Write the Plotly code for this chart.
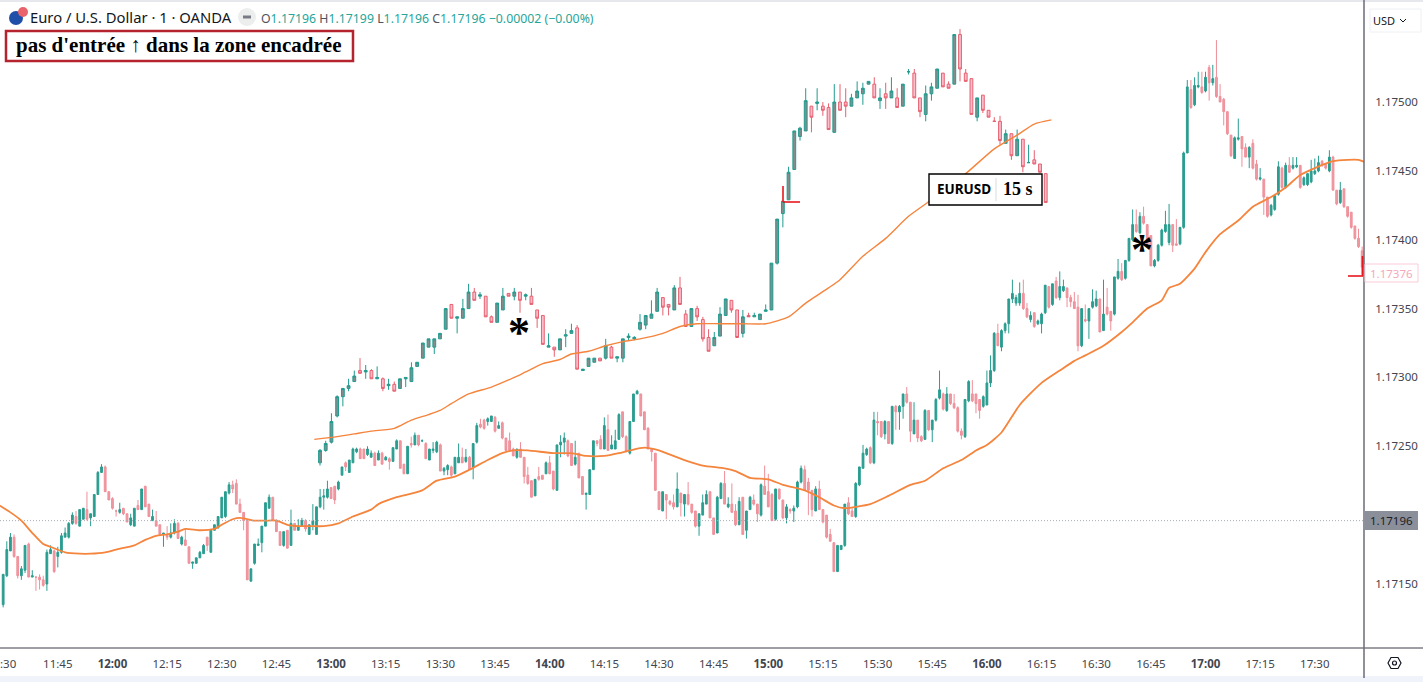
import pandas as pd
import plotly.graph_objects as go

W, H = 1423, 682
PLOT_W, PLOT_H = 1364, 648
BASE = 1.17
PIP = 0.00001

# main series, 1 minute candles from 11:30, in pipettes above 1.17000
main_open = [
    135,156,174,184,170,156,160,179,155,155, 155,153,150,172,174,170,173,184,184,194,
    199,192,197,204,198,199,215,231,235,217, 212,203,202,205,201,193,192,207,204,221,
    208,196,196,193,186,186,184,187,194,179, 182,177,165,165,169,172,184,173,189,191,
    198,199,216,222,223,208,202,196,152,165, 178,180,192,205,213,196,188,178,189,178,
    194,189,192,196,186,193,186,206,213,213, 220,221,219,229,238,231,238,246,248,248,
    244,242,245,240,245,240,241,239,248,254, 237,230,252,251,258,254,252,240,247,246,
    251,232,233,235,230,238,242,239,242,235, 253,266,269,268,268,271,263,267,256,254,
    248,242,248,242,229,225,214,228,229,230, 238,232,218,251,253,254,252,237,245,228,
    215,215,233,254,255,248,262,248,248,255, 275,257,245,268,288,288,275,263,248,245,
    217,203,215,210,209,206,216,208,215,208, 203,192,200,208,217,198,187,212,223,206,
    208,203,193,213,189,204,211,208,200,221, 217,215,197,219,211,198,204,203,206,224,
    233,224,218,203,219,204,200,186,180,159, 175,178,209,203,199,222,234,244,249,238,
    268,268,259,268,252,279,275,279,288,282, 259,269,257,255,276,262,269,285,288,276,
    288,281,278,261,257,283,288,288,284,279, 280,296,305,332,322,334,339,357,354,354,
    361,350,342,347,339,339,347,366,353,370, 358,363,365,358,355,351,323,342,341,351,
    352,357,334,351,348,346,372,377,372,385, 400,411,405,417,411,403,381,385,396,406,
    398,411,397,397,409,463,509,498,511,511, 508,525,514,518,504,502,493,476,459,473,
    475,467,460,470,455,444,444,431,418,422, 433,452,438,454,452,453,454,440,440,442,
    448,450,457,455,450,460,436,427,437,424, 420,410,401,392,
]
main_high = [
    157,181,187,186,170,163,178,180,160,155, 157,156,175,178,175,177,187,191,195,202,
    203,204,205,217,201,215,232,237,236,217, 213,204,209,205,201,201,205,211,219,221,
    208,204,203,193,187,192,194,197,195,185, 190,177,166,169,174,179,184,190,193,199,
    213,217,224,225,226,212,202,197,161,179, 183,192,209,215,213,197,188,188,189,204,
    194,197,198,197,193,208,206,219,219,225, 220,221,225,235,239,240,249,249,249,248,
    250,247,246,247,246,243,242,249,255,254, 237,250,257,260,258,255,253,248,253,254,
    252,235,237,236,242,252,249,248,243,252, 267,270,270,271,272,272,268,268,256,260,
    249,248,253,242,235,225,226,235,229,239, 243,232,251,258,260,255,252,254,245,228,
    216,233,254,254,258,271,273,258,262,274, 275,258,268,288,291,288,275,264,248,245,
    217,217,215,211,215,231,216,215,224,208, 203,201,215,218,217,198,214,224,232,213,
    223,208,213,213,203,214,215,208,223,236, 230,216,219,219,211,208,205,207,225,236,
    236,227,218,221,225,204,200,190,180,178, 178,208,213,205,224,235,251,249,250,275,
    275,268,269,268,279,280,280,288,293,282, 282,269,258,277,276,269,285,305,289,293,
    288,288,279,263,284,298,298,288,284,287, 305,316,333,339,335,340,357,371,360,369,
    371,354,348,347,342,347,367,366,368,373, 377,371,365,360,362,360,350,353,350,364,
    363,357,371,365,348,373,386,383,385,401, 422,422,420,424,411,403,386,397,408,421,
    426,411,415,409,464,516,516,518,522,522, 522,527,527,545,513,503,493,476,475,488,
    475,470,468,473,458,452,444,431,426,432, 457,453,456,460,460,460,454,446,448,458,
    459,461,458,455,465,461,436,442,437,424, 420,410,408,395,
]
main_low = [
    133,155,174,169,154,153,158,155,155,145, 146,148,145,172,158,162,172,184,183,193,
    193,192,197,196,192,199,215,231,217,211, 204,199,201,200,195,192,192,204,204,206,
    199,196,192,186,177,182,183,186,183,178, 178,165,161,165,169,172,174,173,189,190,
    198,198,215,216,208,202,189,153,152,164, 178,173,192,205,196,188,178,177,176,178,
    189,189,192,188,186,189,186,205,204,212, 212,208,218,229,232,231,238,245,241,241,
    243,242,236,240,237,240,233,239,248,234, 230,230,249,251,250,253,241,240,245,245,
    232,229,229,227,230,238,238,238,233,226, 252,263,262,265,268,260,263,255,247,247,
    243,241,242,223,222,213,214,225,226,230, 230,218,218,242,244,242,236,236,227,215,
    204,215,233,250,248,248,247,248,248,255, 256,246,244,268,288,272,262,248,239,218,
    204,203,197,207,204,206,199,199,207,201, 191,185,200,208,198,186,187,212,208,205,
    202,192,193,186,183,204,207,195,199,215, 206,196,196,211,197,194,201,195,205,223,
    218,200,199,203,204,194,183,181,159,159, 175,177,200,199,198,221,234,243,237,237,
    258,256,255,252,251,262,262,270,281,253, 259,253,253,255,261,253,268,284,276,275,
    280,277,260,255,256,282,282,274,270,278, 280,293,304,323,319,332,332,354,352,352,
    349,343,340,336,338,332,346,350,352,357, 356,362,351,351,350,319,322,340,328,350,
    351,333,334,345,334,345,371,370,371,384, 399,405,404,411,396,381,380,384,395,405,
    396,391,396,396,408,463,495,497,510,506, 507,501,512,503,500,483,476,460,459,472,
    453,460,452,451,443,443,418,416,417,421, 432,437,437,449,451,452,437,439,439,441,
    447,449,453,451,449,436,425,426,423,416, 408,400,394,375,
]
main_close = [
    157,175,184,170,156,161,178,155,156,155, 153,149,173,175,159,173,185,187,194,200,
    194,204,205,197,201,215,231,235,217,211, 205,203,204,201,195,198,205,204,219,206,
    199,199,192,186,187,184,187,194,183,184, 178,165,166,169,173,178,178,189,193,199,
    213,217,222,219,208,202,196,153,161,179, 179,192,209,213,196,188,178,188,176,194,
    189,192,196,190,193,196,206,213,214,219, 212,211,224,235,235,240,248,248,241,241,
    248,245,236,245,237,242,239,249,254,234, 230,250,251,258,251,254,241,248,248,253,
    232,234,236,229,242,242,238,242,233,252, 265,264,263,270,272,261,265,256,247,247,
    243,248,242,228,223,213,226,226,226,238, 230,219,251,253,256,243,236,242,227,215,
    216,233,254,252,248,265,247,251,254,273, 257,246,268,288,290,272,262,248,246,218,
    204,217,211,208,206,219,209,215,208,202, 192,201,209,215,198,186,213,223,208,208,
    202,193,210,186,203,213,208,201,222,215, 206,196,219,212,198,206,203,205,224,234,
    218,218,204,219,204,195,184,181,159,178, 178,208,201,199,223,235,245,248,238,269,
    267,257,268,252,279,275,279,288,282,261, 269,256,254,276,262,269,284,291,277,288,
    281,278,261,258,284,297,283,281,276,286, 296,305,332,323,334,339,357,361,358,361,
    350,344,345,337,341,346,367,351,368,358, 366,366,358,355,350,323,350,341,350,355,
    357,333,346,346,341,373,377,371,385,401, 411,406,417,412,397,381,385,396,407,411,
    411,396,396,409,463,511,496,512,512,507, 518,514,517,504,500,493,477,461,474,474,
    466,460,467,452,444,445,431,417,425,432, 453,438,454,449,454,454,438,445,448,450,
    450,456,454,452,460,436,426,436,424,417, 409,401,395,380,
]

# pasted chart on top of the main one, candles counted from its own left edge
paste_open = [
    238,247,253,272,286,292,297,305,304,305, 299,299,294,295,292,299,297,308,314,322,
    322,328,335,353,343,343,350,362,359,359, 344,340,349,361,359,362,359,359,349,345,
    322,322,320,330,332,336,305,308,311,314, 314,322,314,314,329,328,335,338,343,348,
    358,353,349,365,346,337,350,342,329,323, 330,345,356,349,332,345,344,342,348,349,
    383,419,429,451,475,479,497,499,497,496, 478,500,500,497,503,506,513,513,501,506,
    503,503,497,522,521,503,491,506,510,521, 513,513,549,521,517,489,505,494,486,486,
    470,477,461,473,456,458,455,448,
]
paste_high = [
    248,254,274,287,292,299,305,314,309,306, 308,300,299,297,299,300,311,311,325,328,
    328,332,350,353,344,357,368,365,362,359, 345,354,365,361,365,362,361,365,349,345,
    332,322,328,335,339,338,306,314,314,314, 328,323,315,328,332,330,346,345,356,365,
    358,353,367,373,349,350,352,344,335,333, 351,357,356,349,349,347,347,346,353,383,
    415,428,453,479,482,510,497,510,500,499, 513,513,510,506,515,514,515,518,510,514,
    518,510,513,524,524,503,512,514,524,521, 515,549,553,524,517,503,505,494,489,490,
    480,477,480,473,469,465,455,448,
]
paste_low = [
    236,246,252,271,279,290,297,303,299,299, 299,290,291,290,292,293,297,308,314,322,
    317,328,335,343,332,343,350,356,357,344, 340,340,349,359,356,347,356,353,336,324,
    322,315,320,322,332,306,305,308,311,312, 313,314,311,311,327,327,334,335,343,348,
    345,345,349,353,337,337,341,326,319,323, 330,345,347,329,329,344,344,342,348,349,
    382,409,429,451,472,479,478,494,490,480, 478,494,489,497,503,498,513,503,495,495,
    503,496,497,520,503,489,486,501,510,511, 510,513,515,515,491,486,492,489,486,469,
    470,458,461,449,456,455,449,427,
]
paste_close = [
    247,252,268,286,292,294,301,303,305,299, 300,292,295,290,299,300,307,311,325,328,
    328,332,350,343,344,350,362,356,360,344, 340,354,359,359,362,356,360,353,343,324,
    323,320,328,331,334,306,306,314,314,312, 323,314,315,328,330,329,340,345,346,362,
    351,351,365,353,337,350,344,328,319,329, 346,357,349,329,344,344,345,346,349,383,
    415,428,449,479,481,501,489,500,494,480, 500,494,497,503,508,510,515,503,503,503,
    508,496,513,522,503,493,506,511,524,511, 510,549,524,515,491,503,494,489,486,472,
    477,461,473,453,456,455,449,427,
]

ma_minute = [
    -1,2,5,8,11,13,17,21,24,28,31,36,39,42,45,48,50,54,58,60,63,65,69,72,75,78,81,84,88,92,
    96,101,103,108,115,119,124,128,133,137,140,144,151,156,160,165,169,172,176,180,
    182,187,192,198,201,205,210,214,220,224,228,231,234,238,243,249,253,258,263,267,
    270,274,279,285,290,294,297,302,307,310,314,318,320,323,327,330,334,339,343,348,
    352,356,360,365,369,372,374,
]
ma_value = [
    207,202,196,187,179,177,173,172,172,173,175,178,182,185,186,188,190,189,190,193,197,198,196,196,196,193,192,192,192,194,
    199,204,208,213,218,225,228,233,240,245,247,247,245,245,243,243,245,247,249,247,
    245,240,236,234,232,227,226,222,218,213,207,205,206,208,214,222,225,234,240,247,
    251,260,280,296,305,312,316,323,333,340,350,356,365,368,379,391,404,414,424,431,
    438,447,452,457,458,458,456,
]
paste_ma_index = [
    -1,3,6,9,13,16,19,21,23,26,30,34,36,39,42,44,47,50,53,56,60,63,66,70,74,78,82,85,89,91,
    95,99,103,107,113,118,122,125,128,
]
paste_ma_value = [
    255,257,259,261,263,269,273,276,281,288,293,300,304,310,313,317,319,323,326,328,332,337,339,339,339,339,344,354,365,371,
    388,401,417,429,448,466,476,484,487,
]

price_ticks = [1.1715, 1.172, 1.1725, 1.173, 1.1735, 1.174, 1.1745, 1.175]
time_ticks = ["11:45", "12:00", "12:15", "12:30", "12:45", "13:00", "13:15", "13:30", "13:45",
              "14:00", "14:15", "14:30", "14:45", "15:00", "15:15", "15:30", "15:45", "16:00", "16:15",
              "16:30", "16:45", "17:00", "17:15", "17:30"]

DAY = "2021-08-25 "
main_x = pd.date_range(DAY + "11:30", periods=len(main_open), freq="min")
ma_x = [pd.Timestamp(DAY + "11:30") + pd.Timedelta(minutes=m) for m in ma_minute]
paste_x = list(range(len(paste_open)))


def price(values):
    return [BASE + v * PIP for v in values]


def px(x):
    return x / PLOT_W


def py(y):
    return 1 - y / PLOT_H


def box(x0, y0, x1, y1, **kw):
    return dict(type="rect", xref="paper", yref="paper", x0=px(x0), x1=px(x1), y0=py(y0), y1=py(y1), **kw)


def seg(x0, y0, x1, y1, color, width=1, dash="solid"):
    return dict(type="line", xref="paper", yref="paper", x0=px(x0), x1=px(x1), y0=py(y0), y1=py(y1),
                line=dict(color=color, width=width, dash=dash))


def circle(cx, cy, r, color):
    return dict(type="circle", xref="paper", yref="paper", x0=px(cx - r), x1=px(cx + r), y0=py(cy + r), y1=py(cy - r),
                fillcolor=color, line=dict(width=0))


def label(x, y, text, size=12, color="#131722", family="Noto Sans", anchor="left", **kw):
    return dict(xref="paper", yref="paper", x=px(x), y=py(y), text=text, showarrow=False, xanchor=anchor,
                yanchor="middle", font=dict(size=size, color=color, family=family), **kw)


fig = go.Figure()
fig.add_trace(go.Candlestick(
    x=main_x, open=price(main_open), high=price(main_high), low=price(main_low), close=price(main_close),
    increasing=dict(line=dict(color="#2a9d90", width=1), fillcolor="#2a9d90"),
    decreasing=dict(line=dict(color="#ef8f99", width=1), fillcolor="#ef9aa3"),
    whiskerwidth=0, showlegend=False,
))
fig.add_trace(go.Scatter(x=ma_x, y=price(ma_value), mode="lines",
                         line=dict(color="#f5843c", width=1.8, shape="spline", smoothing=0.6), showlegend=False))
fig.add_trace(go.Candlestick(
    x=paste_x, open=price(paste_open), high=price(paste_high), low=price(paste_low), close=price(paste_close),
    xaxis="x2",
    increasing=dict(line=dict(color="#1f9c8f", width=1), fillcolor="#848c8c"),
    decreasing=dict(line=dict(color="#e6606f", width=1), fillcolor="#fbbccb"),
    whiskerwidth=0, showlegend=False,
))
fig.add_trace(go.Scatter(x=paste_ma_index, y=price(paste_ma_value), xaxis="x2", mode="lines",
                         line=dict(color="#f5843c", width=1.4, shape="spline", smoothing=0.6), showlegend=False))

shapes = [
    box(0, 0, W, 2, fillcolor="#e6e8ee", line_width=0),
    box(0, 676, W, H, fillcolor="#f0f3fa", line_width=0),
    seg(0, 648, W, 648, "#3c3f48", 1),
    seg(1364, 0, 1364, 678, "#6a6d78", 1.5),
    dict(type="line", xref="paper", yref="y", x0=0, x1=1, y0=1.17196, y1=1.17196,
         line=dict(color="#a9acb4", width=1, dash="1px,2px")),
    # red corner marks
    seg(783, 186, 783, 202, "#e8171f", 1.6),
    seg(783, 202, 800, 202, "#e8171f", 1.6),
    seg(1362.5, 256, 1362.5, 276, "#e8171f", 1.8),
    seg(1348, 276, 1363, 276, "#e8171f", 1.6),
    # header icons
    circle(16, 18, 7, "#1f4fa8"),
    circle(23, 12, 5, "#e9636b"),
    circle(247, 17, 9, "#eceded"),
    seg(243, 17, 251, 17, "#787b86", 3),
    # note box
    box(6, 31, 353, 61, fillcolor="white", line=dict(color="#b5232e", width=2.5)),
    # pair label box
    box(929, 174, 1042, 205, fillcolor="white", line=dict(color="#000000", width=1.4)),
    seg(996, 178, 996, 201, "#d9dbe0", 1),
    # price tags and controls
    box(1365, 511, 1418, 530, fillcolor="#8b8f9a", line_width=0),
    box(1365, 264, 1418, 282, fillcolor="white", line=dict(color="#f9ccd8", width=1)),
    box(1370, 9, 1421, 32, fillcolor="white", line=dict(color="#eef0f4", width=1)),
    dict(type="path", xref="paper", yref="paper", line=dict(color="#131722", width=1.2),
         path="M {} {} L {} {} L {} {} L {} {} L {} {} L {} {} Z".format(
             px(1388), py(663), px(1391), py(657.5), px(1398), py(657.5),
             px(1401), py(663), px(1398), py(668.5), px(1391), py(668.5))),
    dict(type="circle", xref="paper", yref="paper", x0=px(1392.5), x1=px(1396.5), y0=py(665), y1=py(661),
         line=dict(color="#131722", width=1.2)),
    dict(type="path", xref="paper", yref="paper", line=dict(color="#131722", width=1),
         path="M {} {} L {} {} L {} {}".format(px(1400), py(19), px(1403), py(22), px(1406), py(19))),
]

GREEN = "#26a69a"
legend_text = "".join(
    '<span style="color:#50535e">{}</span><span style="color:{}">{}</span> '.format(a, GREEN, b)
    for a, b in [("O", "1.17196"), ("H", "1.17199"), ("L", "1.17196"), ("C", "1.17196")]
) + '<span style="color:{0}">−0.00002 (−0.00%)</span>'.format(GREEN)

annotations = [
    label(28, 17, "Euro / U.S. Dollar · 1 · OANDA", size=14.8),
    label(259, 18, legend_text, size=12.3),
    label(14, 45, "<b>pas d'entrée ↑ dans la zone encadrée</b>", size=21, color="#000000", family="Liberation Serif"),
    label(935, 189, "<b>EURUSD</b>", size=13.5, color="#000000"),
    label(1001, 189, "<b>15 s</b>", size=18, color="#000000", family="Liberation Serif"),
    label(519, 332, "<b>*</b>", size=44, color="#000000", family="Liberation Serif", anchor="center"),
    label(1142, 250, "<b>*</b>", size=44, color="#000000", family="Liberation Serif", anchor="center"),
    label(1391.5, 520.5, "1.17196", size=11.5, color="#1c1e26", anchor="center"),
    label(1391.5, 273, "1.17376", size=11.5, color="#f5a8bb", anchor="center"),
    label(1371, 20, "USD", size=11),
    label(19, 663, ":30", size=11.5, color="#42454f", anchor="right"),
]

fig.update_layout(
    width=W, height=H,
    margin=dict(l=0, r=W - PLOT_W, t=0, b=H - PLOT_H),
    paper_bgcolor="white", plot_bgcolor="white",
    font=dict(family="Noto Sans", size=11.5, color="#42454f"),
    showlegend=False,
    shapes=shapes, annotations=annotations,
    xaxis=dict(
        range=[DAY + "11:29:08", DAY + "17:43:30"],
        tickvals=[DAY + t for t in time_ticks],
        ticktext=["<b>%s</b>" % t if t.endswith(":00") else t for t in time_ticks],
        showgrid=False, zeroline=False, rangeslider=dict(visible=False),
        ticks="outside", ticklen=5, tickcolor="rgba(0,0,0,0)", showline=False,
    ),
    xaxis2=dict(range=[-56, 182.7], overlaying="x", visible=False, rangeslider=dict(visible=False)),
    yaxis=dict(
        side="right", range=[1.171035, 1.175741], tickvals=price_ticks, tickformat=".5f",
        showgrid=False, zeroline=False, ticks="outside", ticklen=8, tickcolor="rgba(0,0,0,0)", showline=False,
    ),
)

fig.write_html("out.html", config=dict(displayModeBar=False), post_script="document.body.style.margin='0';")
